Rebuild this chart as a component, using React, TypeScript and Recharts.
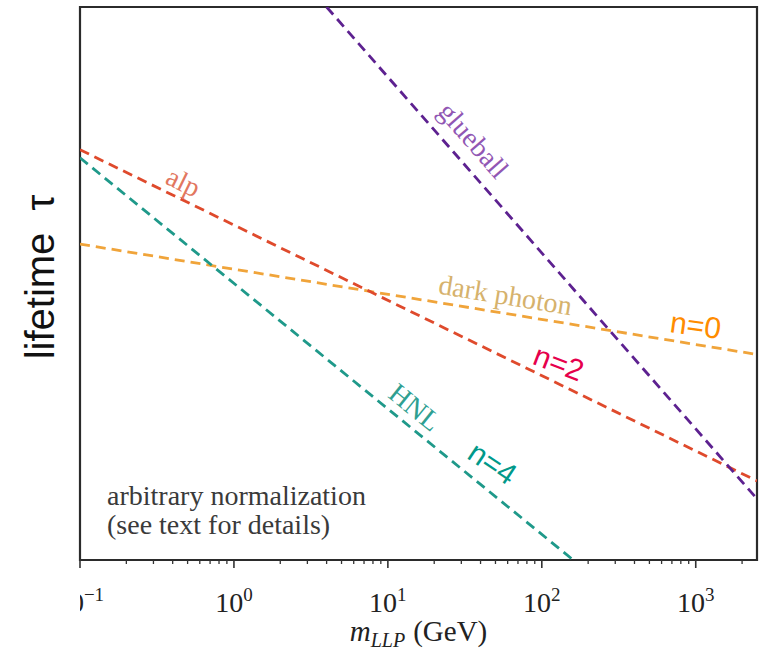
import { LineChart, Line, XAxis, YAxis, ReferenceArea, ReferenceDot, Label } from 'recharts';

// lifetime (arbitrary units) vs LLP mass (GeV)
const darkPhotonMass = [0.1, 2500];
const darkPhotonTau = [3.7e12, 1.5e8];
const alpMass = [0.1, 2500];
const alpTau = [2.1e16, 1.4e3];
const hnlMass = [0.1, 160];
const hnlTau = [1e16, 1];
const glueballMass = [4, 2500];
const glueballTau = [1e22, 270];

const majorTicks = [0.1, 1, 10, 100, 1000];
const tickExponents = ['\u22121', '0', '1', '2', '3'];
const minorTicks = [
  0.2, 0.3, 0.4, 0.5, 0.6, 0.7, 0.8, 0.9,
  2, 3, 4, 5, 6, 7, 8, 9,
  20, 30, 40, 50, 60, 70, 80, 90,
  200, 300, 400, 500, 600, 700, 800, 900,
  2000,
];

const SERIF = '"Liberation Serif", "Times New Roman", serif';
const SANS = '"Liberation Sans", Arial, sans-serif';

const rows = (ms: number[], ts: number[]) => ms.map((m, i) => ({ m, tau: ts[i] }));

const series = [
  { key: 'darkphoton', data: rows(darkPhotonMass, darkPhotonTau), color: '#f0a43a' },
  { key: 'alp', data: rows(alpMass, alpTau), color: '#df4a2c' },
  { key: 'hnl', data: rows(hnlMass, hnlTau), color: '#1f998a' },
  { key: 'glueball', data: rows(glueballMass, glueballTau), color: '#5d2190' },
];

// text labels placed in data coordinates
const notes = [
  { text: 'glueball', m: 36, tau: 5e16, angle: 48.8, color: '#9157b4', font: SERIF, size: 28 },
  { text: 'alp', m: 0.47, tau: 1.1e15, angle: 26, color: '#e2775f', font: SERIF, size: 28 },
  { text: 'dark photon', m: 58, tau: 3.5e10, angle: 9.3, color: '#d6b26c', font: SERIF, size: 28 },
  { text: 'HNL', m: 15, tau: 1.2e6, angle: 39, color: '#2f9f91', font: SERIF, size: 28 },
  { text: 'n=0', m: 1000, tau: 2.2e9, angle: 8, color: '#ff8c00', font: SANS, size: 30 },
  { text: 'n=2', m: 129, tau: 7e7, angle: 21, color: '#e6004c', font: SANS, size: 30 },
  { text: 'n=4', m: 48, tau: 7.2e3, angle: 34, color: '#00998a', font: SANS, size: 30 },
];

function XTick(props: any) {
  const { x, y, payload } = props;
  const i = majorTicks.indexOf(payload.value);
  if (i < 0) {
    return <line x1={x} x2={x} y1={y} y2={y + 4} stroke="#333" strokeWidth={1.3} />;
  }
  return (
    <g>
      {i === 0 && (
        <defs>
          <clipPath id="leftCut">
            <rect x={x} y={y} width={60} height={80} />
          </clipPath>
        </defs>
      )}
      <line x1={x} x2={x} y1={y} y2={y + 8} stroke="#333" strokeWidth={1.6} />
      <text
        x={x}
        y={y + 52}
        textAnchor="middle"
        fontFamily={SERIF}
        fontSize={28}
        fill="#222"
        clipPath={i === 0 ? 'url(#leftCut)' : undefined}
      >
        10<tspan dy={-11} fontSize={19}>{tickExponents[i]}</tspan>
      </text>
    </g>
  );
}

const XLabel = (props: any) => {
  const { x, y, width } = props.viewBox;
  return (
    <text x={x + width / 2} y={y + 81} textAnchor="middle" fontFamily={SERIF} fontSize={29} fill="#222">
      <tspan fontStyle="italic">m</tspan>
      <tspan fontStyle="italic" fontSize={20} dy={6}>LLP</tspan>
      <tspan dx={8} dy={-6}>(GeV)</tspan>
    </text>
  );
};

const noteShape = (n: any) => (p: any) => (
  <text
    x={p.cx}
    y={p.cy}
    transform={`rotate(${n.angle} ${p.cx} ${p.cy})`}
    textAnchor="middle"
    dominantBaseline="central"
    fontFamily={n.font}
    fontSize={n.size}
    fill={n.color}
  >
    {n.text}
  </text>
);

export default function App() {
  return (
    <div style={{ position: 'absolute', left: 0, top: 0, width: 760, height: 650, background: '#fff' }}>
      <LineChart width={760} height={650} margin={{ top: 7, right: 3, bottom: 0, left: 80 }}>
        <XAxis
          type="number"
          dataKey="m"
          scale="log"
          domain={[0.1, 2500]}
          allowDataOverflow
          ticks={[...majorTicks, ...minorTicks].sort((a, b) => a - b)}
          interval={0}
          tick={<XTick />}
          tickLine={false}
          axisLine={false}
          tickSize={0}
          tickMargin={0}
          height={90}
        >
          <Label content={<XLabel />} />
        </XAxis>
        <YAxis type="number" dataKey="tau" scale="log" domain={[1, 1e22]} allowDataOverflow hide />
        {series.map((s) => (
          <Line
            key={s.key}
            data={s.data}
            dataKey="tau"
            type="linear"
            stroke={s.color}
            strokeWidth={2.8}
            strokeDasharray="10 6"
            dot={false}
            activeDot={false}
            isAnimationActive={false}
          />
        ))}
        {notes.map((n) => (
          <ReferenceDot key={n.text} x={n.m} y={n.tau} r={0} shape={noteShape(n)} />
        ))}
        <ReferenceArea
          x1={0.1}
          x2={2500}
          y1={1}
          y2={1e22}
          fill="none"
          fillOpacity={0}
          stroke="#2b2b2b"
          strokeWidth={2.2}
          ifOverflow="visible"
        />
      </LineChart>
      <div
        style={{
          position: 'absolute',
          left: 40,
          top: 277,
          transform: 'translate(-50%, -50%) rotate(-90deg)',
          fontFamily: SANS,
          fontSize: 40,
          lineHeight: 1,
          whiteSpace: 'pre',
          color: '#111',
        }}
      >
        {'lifetime  \u03c4'}
      </div>
      <div
        style={{
          position: 'absolute',
          left: 107,
          top: 481,
          fontFamily: SERIF,
          fontSize: 28,
          lineHeight: '29px',
          color: '#3a3a3a',
        }}
      >
        arbitrary normalization
        <br />
        (see text for details)
      </div>
    </div>
  );
}
